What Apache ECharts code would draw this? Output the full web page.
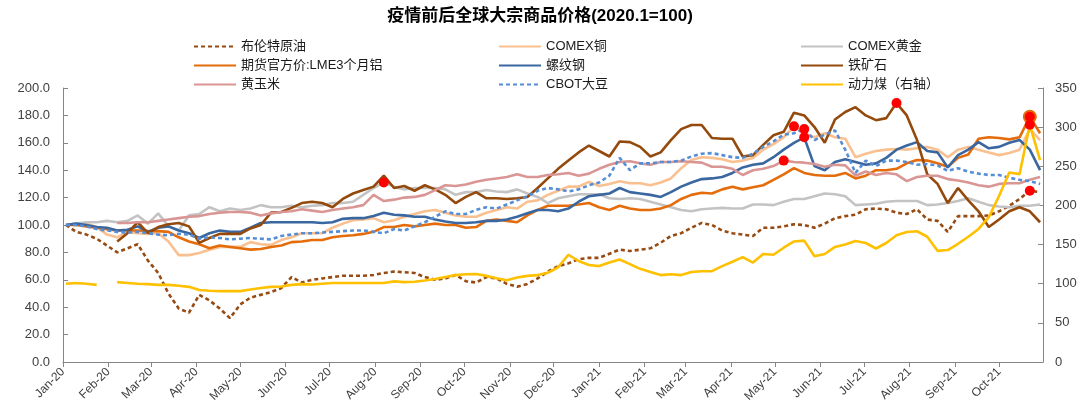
<!DOCTYPE html>
<html>
<head>
<meta charset="utf-8">
<script src="https://cdn.jsdelivr.net/npm/echarts@6/dist/echarts.min.js"></script>
<style>html,body{margin:0;padding:0;background:#fff}#c{width:1080px;height:418px}</style>
</head>
<body>
<div id="c"></div>
<script>
// weekly observations starting 2020-01-03
const firstWeek = Date.UTC(2020, 0, 3);
const weekCount = 96;
const weeks = [];
for (let i = 0; i < weekCount; i++) weeks.push(firstWeek + i * 7 * 86400000);

const monthNames = ['Jan','Feb','Mar','Apr','May','Jun','Jul','Aug','Sep','Oct','Nov','Dec'];
const leftAxis = {min: 0, max: 200, interval: 20};
const rightAxis = {min: 0, max: 350, interval: 50};

const brent = [100,95,93,90,85,80,83,86,74,65,
  50,39,36,49,45,39,32,42,47,49,
  51,54,62,58,60,61,62,63,63,63,
  63.5,65,66,65.5,65,62,60,61,63.5,59,
  58,62,61,57,55,57,61,66,70,72,
  75,76,76,79,82,81,82,83,87,92,
  94,98,101.5,100,96,94,93,92,98,98,
  99,100.5,100,98,101,105,106.5,107.5,111.5,112,
  111.5,109,108,111.5,104,103,95,106.5,106.5,106.5,
  107,110,114,119,125,124];
const copper = [100,101,101,98.5,93,91,95,94,93.5,94,
  88,78,78,79.5,82,84,84,84,87.5,86,
  85.5,89,91,94,94,94,98,101,103.5,104,
  105,102,103.5,106,108,110,111,109,107,106,
  106,109,111,113,112,117,118,122,125,128,
  128,131.5,128.5,130,132,130.5,130.5,129,131,134,
  141.5,147.5,149.5,149,148,146,147,149,155,159,
  164,172,167,164,167,164,163,149.5,152,154,
  155,155.5,155,156,157,155,149.5,155,157,155,
  153,151,152.5,155,170,162];
const gold = [100,101,102,102,103,102,103,107,101,108.5,
  99,96,107,108,113,110,112,111,112,114.5,
  113,113,114,113,114,114.5,116,116,117,122,
  127,131,128,126,127,127,127,126,122,124,
  124,125.5,124.5,124,126,123,120.5,116,119.5,121,
  122.5,122.5,122.5,119.5,119,119.5,119,117,115,113,
  111,110,111.5,112,112.5,112,112,115,115,114.5,
  117,119,119,121,123,122.5,121,114.5,115,115.5,
  117,117.5,117.5,117.5,114.5,115,116,117.5,119.5,117,
  114.5,113.5,113,114,114,115];
const aluminium = [100,100,99,98,97,96,96,96,95.5,95.5,
  95,91,88,86,83,85,84,83,82,82.5,
  84,85,87.5,88,89,89,91,92,92.5,93.5,
  95,98.5,98.5,100,99,100,101,100,100,98,
  98.5,103,104,103,102,107,111,114,114,114,
  115,116,113,111,114,112,111,111,112,114.5,
  119,122,123.5,123,126,128,126,127.5,129,133,
  137,141.5,138,136.5,136,136,138,134,136,140,
  140,141,145,147.5,147,145,142.5,149,151.5,163,
  164,163.5,162.5,164,179,167];
const rebar = [100,101,100,98.5,98,96,96.5,99,95,98,
  99,96,94,90.5,94,96,95,95,98,101.5,
  102,102,102,102,102,101.5,102,104.5,105,105,
  106.5,109,107.5,107,106,106,104,102.5,101.5,101.5,
  102,103,103,104,106,108.5,111,111,110,112,
  117,121,122,123,127,124,123,122,120.5,124,
  128,131,133.5,134,135,138,142,144,145,149.5,
  155,160,164,143,140,146,148,146,144,145,
  149,155,158,160.5,154,153,142,151,155,160.5,
  156,157,160,162,155,140];
const ironOre = [null,null,null,null,null,88,94,102,94,98.5,
  100.5,101.5,99,87,90.5,93.5,93.5,93.5,97.5,100,
  109,109.5,112.5,116,117,116,113,119,123,125.5,
  128,136,127,128.5,125,129,126,122,116,120.5,
  124,119.5,119.5,119,119.5,120.5,127,134,141,147,
  153,158,154,150,161,160.5,157,150,153,162,
  170,173,173,163.5,163,163,150,151,158.5,165.5,
  168,182,180,171.5,160,177,182.5,186,180,176.5,
  178,189,180,162,137,130,116,127,118,110,
  98.5,104,110,113,110,102];
const corn = [null,null,null,null,null,101.5,101.5,102,102,103,
  104,105,106,106.5,108,109,109.5,109.5,109,107,
  108.5,109.5,110,111.5,110.5,109.5,111,112,113,114.5,
  122,117.5,118.5,120,120.5,122,125.5,129,128.5,129.5,
  131.5,133,134,135,137,135,135,136.5,137,138,
  136,137.5,141,144,146,146.5,145,144,146,146,
  146.5,146,145.5,142.5,142.5,141,136.5,140,141,143,
  147,146,145.5,144.5,142.5,144,143.5,136,139,136.5,
  138,137,132,135,136,136,133.5,132.5,131,129,
  128,130,130.5,130.5,133,135];
const soybean = [100,100,99,97,96,95,94.5,95,94,93,
  92.5,93.5,93,90,91,90.5,89.5,90,90.5,90,
  89.5,92,93,94,94,94.5,95,95.5,96,96,
  95,94,97,96,99,102,106,110,108,108,
  111,113,112,115,118,121,125,127,126,124.5,
  126,129,131,136,149,140,145,145,146,146,
  147,150,152,152.5,151,149.5,149,152,157,161,
  166,167,170,162,166,169,155,138,147,143,
  147,147,146,144,144.5,143.5,139.5,141.5,139,137.5,
  136.5,136.5,134.5,133,132,130];
const coal = [100,101,100,98.5,null,102,101,100,99.5,98.5,
  98.5,97.5,96,92,91,90.5,90.5,90.5,92.5,94.5,
  96,96.5,98.5,99.5,99,100,101,101,101,101,
  101,101,103,102,102.5,104,106,108.5,111,112,
  112.5,110,107,104.5,108,110,111,114,121,137,
  129,124,122.5,127,131,125,119,115,111,112,
  111,115,116,116,122.5,128,134,127,138,137,
  146,154,155,135,138,147,150,154.5,152,145,
  152,162,166,167,160,142,143,151,160,170,
  185,212,242,240,303,258];

const seriesDefs = [
  {name: '布伦特原油', values: brent, color: '#974B12', dashed: true, axis: 0},
  {name: 'COMEX铜', values: copper, color: '#FAC090', axis: 0},
  {name: 'COMEX黄金', values: gold, color: '#C3C3C3', axis: 0},
  {name: '期货官方价:LME3个月铝', values: aluminium, color: '#E46C0A', axis: 0, ring: true},
  {name: '螺纹钢', values: rebar, color: '#3A67A0', axis: 0},
  {name: '铁矿石', values: ironOre, color: '#944A0C', axis: 0},
  {name: '黄玉米', values: corn, color: '#D99694', axis: 0},
  {name: 'CBOT大豆', values: soybean, color: '#558ED5', dashed: true, axis: 0},
  {name: '动力煤（右轴）', values: coal, color: '#FFC000', axis: 1}
];

const FONT = "'Liberation Sans', 'Noto Sans CJK SC', sans-serif";

const series = seriesDefs.map(d => ({
  name: d.name,
  type: 'line',
  yAxisIndex: d.axis,
  symbol: 'none',
  connectNulls: false,
  data: weeks.map((t, i) => [t, d.values[i]]),
  lineStyle: {color: d.color, width: 2.6, type: d.dashed ? [4, 3] : 'solid'},
  itemStyle: {color: d.color},
  markPoint: {
    symbol: 'circle',
    symbolSize: d.ring ? 12 : 10,
    label: {show: false},
    itemStyle: d.ring ? {color: '#FF0000', borderColor: '#E46C0A', borderWidth: 2} : {color: '#FF0000'},
    data: [{type: 'max'}]
  }
}));

const legendBase = {
  orient: 'vertical', top: 35, itemWidth: 42, itemHeight: 10, itemGap: 6,
  itemStyle: {opacity: 0},
  textStyle: {fontSize: 13, color: '#1a1a1a', fontFamily: FONT}
};
const legendCols = [
  {left: 188, data: ['布伦特原油', '期货官方价:LME3个月铝', '黄玉米']},
  {left: 493, data: ['COMEX铜', '螺纹钢', 'CBOT大豆']},
  {left: 795, data: ['COMEX黄金', '铁矿石', '动力煤（右轴）']}
];

const chart = echarts.init(document.getElementById('c'), null, {renderer: 'canvas'});
chart.setOption({
  animation: false,
  useUTC: true,
  backgroundColor: '#fff',
  textStyle: {fontFamily: FONT},
  title: {
    text: '疫情前后全球大宗商品价格(2020.1=100)',
    left: 'center', top: 3,
    textStyle: {fontSize: 17, fontWeight: 'bold', color: '#000', fontFamily: FONT}
  },
  legend: legendCols.map(c => Object.assign({}, legendBase, c)),
  grid: {left: 63, right: 37, top: 88, bottom: 56, containLabel: false},
  xAxis: {
    type: 'time',
    min: Date.UTC(2020, 0, 1),
    max: Date.UTC(2021, 9, 31),
    splitNumber: 22,
    minInterval: 28 * 86400000,
    maxInterval: 31 * 86400000,
    axisLine: {lineStyle: {color: '#868686', width: 1}},
    axisTick: {show: true, inside: false, length: 5, lineStyle: {color: '#868686'}},
    splitLine: {show: false},
    axisLabel: {
      rotate: 45, fontSize: 12, color: '#404040', margin: 8, fontFamily: FONT,
      showMaxLabel: false,
      formatter: function (v) {
        const d = new Date(v);
        if (d.getUTCDate() !== 1) return '';
        return monthNames[d.getUTCMonth()] + '-' + String(d.getUTCFullYear()).slice(2);
      }
    }
  },
  yAxis: [
    {
      type: 'value', position: 'left', min: leftAxis.min, max: leftAxis.max, interval: leftAxis.interval,
      axisLine: {show: true, lineStyle: {color: '#868686'}},
      axisTick: {show: true, inside: true, length: 5, lineStyle: {color: '#868686'}},
      splitLine: {show: false},
      axisLabel: {formatter: v => v.toFixed(1), color: '#404040', fontSize: 13, margin: 13, fontFamily: FONT}
    },
    {
      type: 'value', position: 'right', min: rightAxis.min, max: rightAxis.max, interval: rightAxis.interval,
      axisLine: {show: true, lineStyle: {color: '#868686'}},
      axisTick: {show: true, inside: true, length: 5, lineStyle: {color: '#868686'}},
      splitLine: {show: false},
      axisLabel: {color: '#404040', fontSize: 13, margin: 12, fontFamily: FONT}
    }
  ],
  series: series
});
</script>
</body>
</html>
